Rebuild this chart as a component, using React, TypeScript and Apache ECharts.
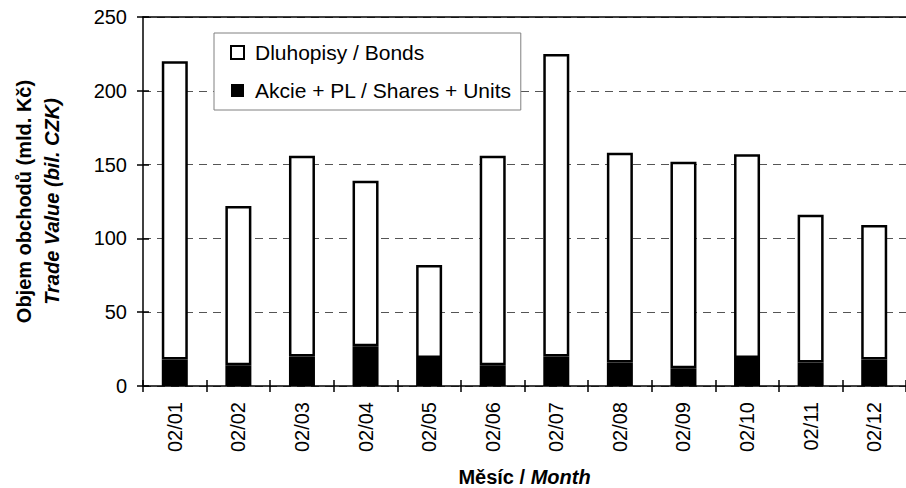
import React, { useEffect, useRef } from "react";
import * as echarts from "echarts";

const months = ["02/01", "02/02", "02/03", "02/04", "02/05", "02/06", "02/07", "02/08", "02/09", "02/10", "02/11", "02/12"];
const shares = [18, 14, 20, 27, 19, 14, 20, 16, 12, 19, 16, 18];
const bonds = [202, 108, 136, 112, 63, 142, 205, 142, 140, 138, 100, 91];
const yTicks = { min: 0, max: 250, interval: 50 };
const bondsName = "Dluhopisy / Bonds";
const sharesName = "Akcie + PL / Shares + Units";

const FONT = "'Liberation Sans', Arial, sans-serif";

export default function App() {
  const ref = useRef<HTMLDivElement>(null);
  useEffect(() => {
    if (!ref.current) return;
    const chart = echarts.init(ref.current, undefined, { renderer: "svg" });
    const tickLine = { color: "#000000", width: 1.5 };
    chart.setOption({
      animation: false,
      backgroundColor: "#ffffff",
      textStyle: { fontFamily: FONT },
      grid: { left: 143, top: 17, right: 0, bottom: 102, containLabel: false, outerBoundsMode: "none" },
      legend: {
        left: 214,
        top: 33,
        orient: "vertical",
        data: [
          { name: bondsName, itemStyle: { color: "#ffffff", borderColor: "#000000", borderWidth: 2 } },
          { name: sharesName, itemStyle: { color: "#000000", borderColor: "#000000", borderWidth: 0 } },
        ],
        icon: "rect",
        itemWidth: 13,
        itemHeight: 13,
        itemGap: 17,
        padding: [9, 9, 9, 16],
        backgroundColor: "#ffffff",
        borderColor: "#808080",
        borderWidth: 1,
        textStyle: { fontFamily: FONT, fontSize: 21, color: "#000000", padding: [0, 0, 0, 6] },
      },
      xAxis: [
        {
          type: "category",
          data: months,
          position: "bottom",
          axisLine: { show: true, lineStyle: { color: "#000000", width: 1.5 } },
          axisTick: { show: true, length: 6, lineStyle: tickLine },
          axisLabel: { rotate: 90, margin: 16, fontSize: 20, color: "#000000", fontFamily: FONT },
          name: "{b|Měsíc / }{bi|Month}",
          nameLocation: "middle",
          nameGap: 81,
          nameTextStyle: {
            lineHeight: 20,
            rich: {
              b: { fontSize: 20, lineHeight: 20, fontWeight: "bold", fontFamily: FONT, color: "#000000" },
              bi: { fontSize: 20, lineHeight: 20, fontWeight: "bold", fontStyle: "italic", fontFamily: FONT, color: "#000000" },
            },
          },
        },
        {
          type: "category",
          data: months,
          position: "bottom",
          axisLine: { show: false },
          axisTick: { show: true, inside: true, length: 6, lineStyle: tickLine },
          axisLabel: { show: false },
        },
        {
          type: "category",
          data: months,
          position: "top",
          axisLine: { show: true, lineStyle: { color: "#000000", width: 1.5 } },
          axisTick: { show: false },
          axisLabel: { show: false },
        },
      ],
      yAxis: [
        {
          type: "value",
          position: "left",
          min: yTicks.min,
          max: yTicks.max,
          interval: yTicks.interval,
          axisLine: { show: true, lineStyle: { color: "#000000", width: 1.5 } },
          axisTick: { show: true, length: 6, lineStyle: tickLine },
          axisLabel: { margin: 16, fontSize: 20, color: "#000000", fontFamily: FONT },
          splitLine: { show: true, lineStyle: { color: "#555555", width: 1, type: [8, 6] } },
          name: "{a|Objem obchodů (mld. Kč)}\n{b|Trade Value (bil. CZK)}",
          nameLocation: "middle",
          nameRotate: 90,
          nameGap: 77,
          nameTextStyle: {
            rich: {
              a: { fontSize: 20, fontWeight: "bold", fontFamily: FONT, color: "#000000", lineHeight: 28 },
              b: { fontSize: 20, fontWeight: "bold", fontStyle: "italic", fontFamily: FONT, color: "#000000", lineHeight: 28 },
            },
          },
        },
        {
          type: "value",
          position: "left",
          min: yTicks.min,
          max: yTicks.max,
          interval: yTicks.interval,
          axisLine: { show: false },
          axisTick: { show: true, inside: true, length: 6, lineStyle: tickLine },
          axisLabel: { show: false },
          splitLine: { show: false },
        },
      ],
      series: [
        {
          name: sharesName,
          type: "bar",
          stack: "total",
          data: shares,
          barWidth: 26,
          z: 3,
          itemStyle: { color: "#000000", borderColor: "#000000", borderWidth: 2.5 },
        },
        {
          name: bondsName,
          type: "bar",
          stack: "total",
          data: bonds,
          barWidth: 26,
          itemStyle: { color: "#ffffff", borderColor: "#000000", borderWidth: 2.5 },
        },
      ],
    });
    return () => chart.dispose();
  }, []);
  return <div ref={ref} style={{ width: 906, height: 488, position: "absolute", left: 0, top: 0 }} />;
}
